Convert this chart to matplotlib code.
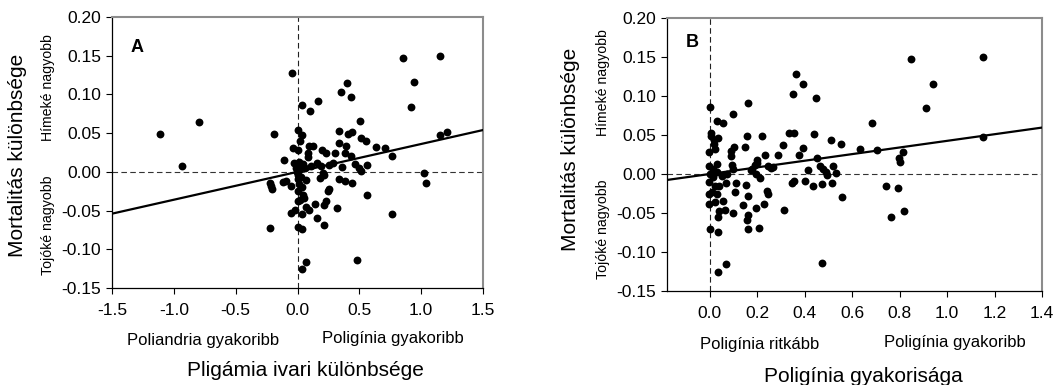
import matplotlib
matplotlib.use("Agg")
import matplotlib.pyplot as plt
import numpy as np

plt.rcParams['font.family'] = ['Liberation Sans', 'DejaVu Sans']

# Panel A data
a_x = [-1.115, -0.933, -0.797, -0.187, -0.045, 0.035, 0.101, 0.163, 0.352, 0.397,
       0.435, 0.853, 1.155, 0.944, 0.917, 0.509, 1.155, 1.211, 1.024, 1.043,
       0.768, 0.768, 0.709, 0.637, 0.557, 0.517, 0.560, 0.560, 0.480, 0.072,
       0.040, -0.224, 0.000, 0.037, 0.211, 0.160, 0.317, 0.333, 0.408, 0.443,
       0.339, 0.392, 0.381, 0.432, 0.469, 0.496, 0.515, 0.357, 0.333, 0.387,
       0.437, 0.301, 0.229, 0.195, 0.288, 0.256, 0.192, 0.157, 0.203, 0.181,
       0.213, 0.256, 0.243, 0.229, 0.211, 0.096, 0.069, 0.040, 0.141, -0.056,
       -0.024, -0.117, -0.091, -0.051, -0.112, -0.224, -0.203, -0.216, 0.008, 0.037,
       0.019, -0.037, 0.008, 0.096, 0.123, 0.085, 0.085, -0.027, 0.016, 0.043,
       -0.016, 0.016, 0.059, 0.109, 0.005, 0.029, 0.069, 0.011, 0.037, 0.003,
       0.048, 0.021, 0.000, 0.056, 0.008, -0.005, 0.005]
a_y = [0.049, 0.007, 0.065, 0.049, 0.128, 0.086, 0.078, 0.091, 0.103, 0.115,
       0.097, 0.147, 0.150, 0.116, 0.084, 0.066, 0.047, 0.051, -0.001, -0.014,
       0.021, -0.055, 0.031, 0.032, 0.040, 0.044, 0.009, -0.030, -0.114, -0.116,
       -0.125, -0.072, -0.071, -0.074, -0.069, -0.059, -0.047, 0.053, 0.049, 0.051,
       0.037, 0.033, 0.025, 0.020, 0.010, 0.005, 0.001, 0.006, -0.009, -0.012,
       -0.015, 0.025, 0.025, 0.028, 0.011, 0.009, 0.007, 0.011, -0.002, -0.008,
       -0.004, -0.022, -0.025, -0.038, -0.043, -0.049, -0.046, -0.055, -0.041, -0.053,
       -0.049, -0.013, -0.012, -0.018, 0.015, -0.015, -0.022, -0.018, 0.054, 0.047,
       0.040, 0.031, 0.028, 0.034, 0.034, 0.024, 0.019, 0.011, 0.013, 0.010,
       0.005, 0.003, 0.005, 0.007, -0.004, -0.006, -0.010, -0.016, -0.019, -0.025,
       -0.030, -0.036, -0.038, -0.034, -0.009, 0.000, 0.007]

# Panel B data
b_x = [0.003, 0.032, 0.054, 0.100, 0.163, 0.349, 0.364, 0.393, 0.449, 0.847,
       1.150, 0.939, 0.913, 0.682, 1.150, 0.635, 0.706, 0.814, 0.799, 0.801,
       0.744, 0.794, 0.764, 0.818, 0.475, 0.556, 0.554, 0.513, 0.438, 0.451,
       0.413, 0.400, 0.435, 0.475, 0.514, 0.464, 0.479, 0.490, 0.496, 0.518,
       0.532, 0.336, 0.353, 0.392, 0.376, 0.347, 0.357, 0.315, 0.307, 0.288,
       0.260, 0.244, 0.232, 0.219, 0.199, 0.200, 0.190, 0.194, 0.210, 0.179,
       0.157, 0.149, 0.243, 0.244, 0.229, 0.207, 0.163, 0.158, 0.160, 0.163,
       0.151, 0.196, 0.140, 0.096, 0.108, 0.110, 0.068, 0.064, 0.056, 0.035,
       0.001, 0.036, 0.068, 0.035, 0.038, 0.088, 0.093, 0.089, 0.101, 0.096,
       0.036, 0.018, 0.024, 0.004, 0.007, -0.003, 0.018, -0.001, 0.032, 0.012,
       0.029, 0.000, 0.015, -0.001, 0.022, 0.038, 0.010, -0.001, 0.029, -0.004,
       0.022, 0.051, 0.071, 0.012, 0.175, 0.265]
b_y = [0.086, 0.068, 0.065, 0.077, 0.091, 0.103, 0.128, 0.115, 0.097, 0.147,
       0.150, 0.116, 0.084, 0.066, 0.047, 0.032, 0.031, 0.028, 0.021, 0.015,
       -0.015, -0.018, -0.055, -0.048, -0.114, -0.029, 0.039, 0.044, 0.051, 0.020,
       0.005, -0.009, -0.015, -0.013, -0.012, 0.010, 0.007, 0.003, -0.001, 0.010,
       0.001, 0.053, 0.052, 0.033, 0.025, -0.011, -0.009, -0.046, 0.037, 0.025,
       0.008, 0.010, 0.025, 0.049, 0.018, 0.014, 0.011, 0.000, -0.005, 0.006,
       0.049, 0.034, -0.022, -0.025, -0.038, -0.069, -0.071, -0.059, -0.052, -0.028,
       -0.014, -0.044, -0.040, -0.050, -0.023, -0.011, -0.012, -0.046, -0.034, -0.074,
       -0.071, -0.125, -0.116, -0.055, -0.048, 0.030, 0.012, 0.023, 0.035, 0.007,
       0.046, 0.039, 0.032, 0.053, 0.049, 0.028, 0.043, 0.010, 0.013, 0.007,
       0.003, 0.000, -0.004, -0.010, -0.015, -0.015, -0.023, -0.026, -0.026, -0.038,
       -0.036, -0.003, 0.000, 0.003, 0.005, 0.009]

# Regression lines (intercept, slope)
a_fit = [0.0, 0.036]
b_fit = [0.0, 0.0425]

a_xticks = [-1.5, -1.0, -0.5, 0.0, 0.5, 1.0, 1.5]
b_xticks = [0.0, 0.2, 0.4, 0.6, 0.8, 1.0, 1.2, 1.4]
yticks = [-0.15, -0.10, -0.05, 0.00, 0.05, 0.10, 0.15, 0.20]

W, H = 1060, 385
fig = plt.figure(figsize=(W / 100, H / 100), dpi=100)


def fx(px):
    return px / W


def fy(py):
    return 1 - py / H


def setup(ax, xlim, xticks):
    ax.set_xlim(*xlim)
    ax.set_ylim(-0.15, 0.20)
    ax.set_xticks(xticks)
    ax.set_xticklabels([f"{t:.1f}" for t in xticks], fontsize=12.5)
    ax.set_yticks(yticks)
    ax.set_yticklabels([f"{t:.2f}" for t in yticks], fontsize=12.5)
    ax.tick_params(direction='out', length=4, width=0.8, top=False, right=False, pad=4)
    ax.tick_params(axis='x', pad=7)
    for s in ['top', 'right']:
        ax.spines[s].set_color('#8c8c8c')
        ax.spines[s].set_linewidth(1.5)
    for s in ['left', 'bottom']:
        ax.spines[s].set_color('black')
        ax.spines[s].set_linewidth(0.9)
    ax.axhline(0, color='#333333', lw=0.8, ls=(0, (5, 3)), zorder=1)
    ax.axvline(0, color='#222222', lw=0.8, ls=(0, (5, 3)), zorder=1)


# Panel A
axA = fig.add_axes([fx(112), fy(288), fx(483 - 112), (288 - 17) / H])
setup(axA, (-1.5, 1.5), a_xticks)
axA.scatter(a_x, a_y, s=32, color='black', zorder=3, linewidths=0)
xl = np.array([-1.5, 1.5])
axA.plot(xl, a_fit[0] + a_fit[1] * xl, color='black', lw=1.6, zorder=4)
axA.text(0.05, 0.92, 'A', transform=axA.transAxes, fontsize=13, fontweight='bold',
         ha='left', va='top')

# Panel B
axB = fig.add_axes([fx(667), fy(291), fx(1042 - 667), (291 - 18) / H])
setup(axB, (-0.18, 1.4), b_xticks)
axB.scatter(b_x, b_y, s=32, color='black', zorder=3, linewidths=0)
xl = np.array([-0.18, 1.4])
axB.plot(xl, b_fit[0] + b_fit[1] * xl, color='black', lw=1.6, zorder=4)
axB.text(0.05, 0.94, 'B', transform=axB.transAxes, fontsize=13, fontweight='bold',
         ha='left', va='top')

# Annotation texts
fig.text(fx(18), fy(155), 'Mortalitás különbsége', rotation=90, fontsize=15,
         ha='center', va='center')
fig.text(fx(48), fy(88), 'Hímeké nagyobb', rotation=90, fontsize=10.2,
         ha='center', va='center')
fig.text(fx(48), fy(225), 'Tojóké nagyobb', rotation=90, fontsize=10.2,
         ha='center', va='center')
fig.text(fx(203), fy(340), 'Poliandria gyakoribb', fontsize=12, ha='center', va='center')
fig.text(fx(393), fy(338), 'Poligínia gyakoribb', fontsize=12, ha='center', va='center')
fig.text(fx(305), fy(370), 'Pligámia ivari különbsége', fontsize=15, ha='center', va='center')

fig.text(fx(570), fy(149), 'Mortalitás különbsége', rotation=90, fontsize=15,
         ha='center', va='center')
fig.text(fx(603), fy(83), 'Hímeké nagyobb', rotation=90, fontsize=10.2,
         ha='center', va='center')
fig.text(fx(603), fy(229), 'Tojóké nagyobb', rotation=90, fontsize=10.2,
         ha='center', va='center')
fig.text(fx(760), fy(345), 'Poligínia ritkább', fontsize=12, ha='center', va='center')
fig.text(fx(955), fy(343), 'Poligínia gyakoribb', fontsize=12, ha='center', va='center')
fig.text(fx(863), fy(376), 'Poligínia gyakorisága', fontsize=15, ha='center', va='center')

fig.savefig('out.png', dpi=100)
